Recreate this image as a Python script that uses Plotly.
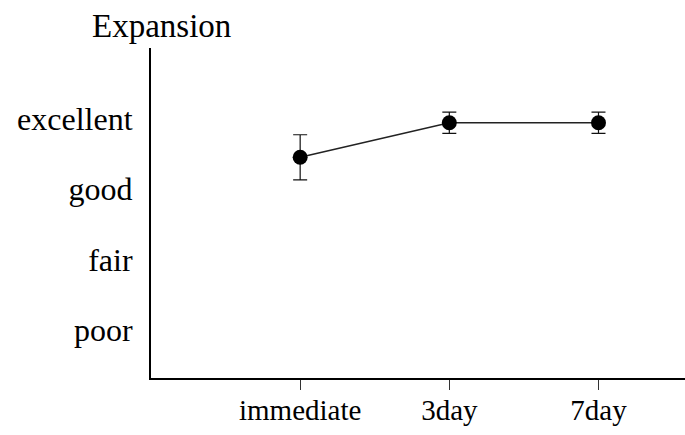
import plotly.graph_objects as go

# Expansion rating over time
times = ["immediate", "3day", "7day"]
means = [3.45, 3.94, 3.94]
errors = [0.32, 0.15, 0.15]

rating_values = [1, 2, 3, 4]
rating_labels = ["poor", "fair", "good", "excellent"]

FONT = "Liberation Serif"

fig = go.Figure()
fig.add_trace(go.Scatter(
    x=list(range(len(times))),
    y=means,
    mode="lines+markers",
    line=dict(color="#222222", width=1.5),
    marker=dict(color="black", size=15),
    error_y=dict(type="data", array=errors, color="#111111", thickness=1.2, width=7),
    showlegend=False,
))

fig.update_layout(
    width=685, height=435,
    margin=dict(l=151, r=0, t=48, b=57),
    paper_bgcolor="white", plot_bgcolor="white",
    font=dict(family=FONT, size=32, color="black"),
    xaxis=dict(
        range=[-1.0, 2.58],
        tickmode="array",
        tickvals=list(range(len(times))),
        ticktext=times,
        ticks="outside", ticklen=10, tickwidth=1, tickcolor="#333333",
        ticklabelstandoff=-5,
        showline=True, linecolor="black", linewidth=2,
        showgrid=False, zeroline=False,
        tickfont=dict(family=FONT, size=29),
    ),
    yaxis=dict(
        range=[0.32, 5.0],
        tickmode="array",
        tickvals=rating_values,
        ticktext=rating_labels,
        ticks="", ticklabelstandoff=10,
        showline=True, linecolor="black", linewidth=2,
        showgrid=False, zeroline=False,
        tickfont=dict(family=FONT, size=32),
    ),
    annotations=[dict(
        text="Expansion", xref="paper", yref="paper",
        x=0.02, y=1.0, xanchor="center", yanchor="bottom", yshift=2,
        showarrow=False, font=dict(family=FONT, size=33),
    )],
)

fig.write_html("out.html")
